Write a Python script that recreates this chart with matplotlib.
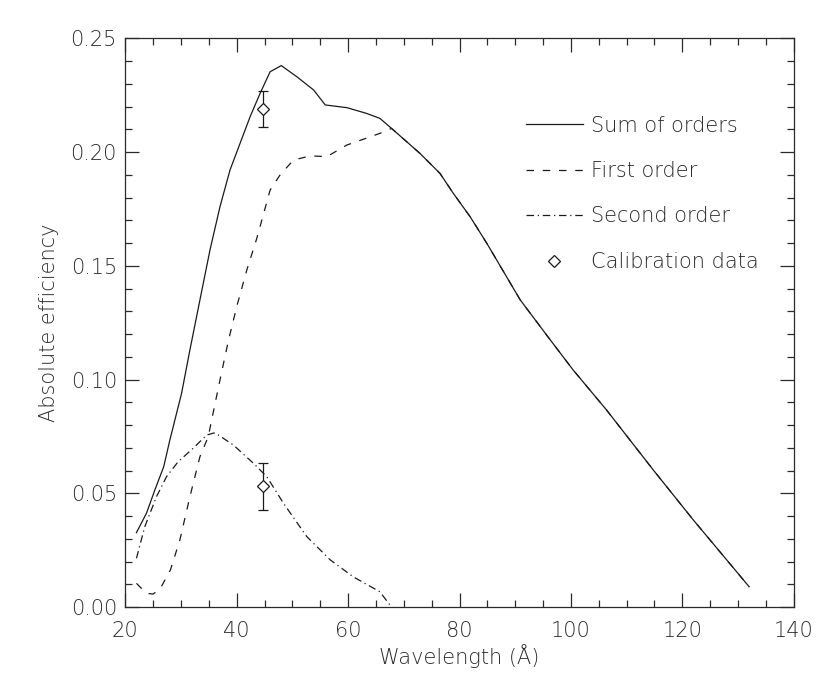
import matplotlib
matplotlib.use("Agg")
import matplotlib.pyplot as plt
from matplotlib.ticker import MultipleLocator

# sum of orders
sum_x = [22.0, 23.8, 25.3, 26.9, 28.0, 30.1, 31.6, 33.4, 35.2, 37.0, 38.8, 40.6,
         42.4, 44.2, 46.0, 48.0, 50.8, 53.8, 55.9, 59.8, 63.3, 65.7, 67.8, 72.9,
         76.5, 78.9, 81.9, 84.9, 90.9, 96.3, 100.4, 106.4, 114.8, 122.0, 132.0]
sum_y = [0.0327, 0.0412, 0.0514, 0.0617, 0.0734, 0.0939, 0.113, 0.135, 0.1569,
         0.176, 0.1921, 0.2038, 0.2155, 0.2258, 0.2353, 0.2380, 0.2331, 0.2273,
         0.2207, 0.2195, 0.2170, 0.2148, 0.2104, 0.1994, 0.1906, 0.1818, 0.1716,
         0.1599, 0.1350, 0.1174, 0.1042, 0.0866, 0.0602, 0.0382, 0.0089]

# first order
first_x = [22.0, 23.8, 25.0, 26.3, 28.1, 29.8, 31.6, 33.4, 34.9, 35.5, 37.0, 38.5,
           40.0, 41.8, 43.6, 46.0, 47.8, 50.2, 53.2, 56.2, 59.8, 65.7, 67.8, 72.9,
           76.5, 78.9, 81.9, 84.9, 90.9, 96.3, 100.4, 106.4, 114.8, 122.0, 132.0]
first_y = [0.0104, 0.0060, 0.0057, 0.0082, 0.0163, 0.0295, 0.0485, 0.0661, 0.0749,
           0.0822, 0.0998, 0.117, 0.132, 0.148, 0.162, 0.1833, 0.1900, 0.1965,
           0.1983, 0.1980, 0.2031, 0.2082, 0.2104, 0.1994, 0.1906, 0.1818, 0.1716,
           0.1599, 0.1350, 0.1174, 0.1042, 0.0866, 0.0602, 0.0382, 0.0089]

# second order
second_x = [22.0, 23.5, 25.6, 27.4, 29.5, 32.2, 34.6, 36.1, 39.4, 43.0, 45.4, 48.4,
            52.6, 56.8, 60.9, 65.7, 67.5, 68.0]
second_y = [0.0214, 0.0353, 0.0485, 0.0573, 0.0639, 0.0698, 0.0756, 0.0766, 0.0712,
            0.0632, 0.0573, 0.0456, 0.0309, 0.0207, 0.0133, 0.0067, 0.0009, 0.0]

# calibration points
cal_x = [44.8, 44.8]
cal_y = [0.219, 0.053]
cal_err = [0.008, 0.0103]

ink = "#1a1a1a"
txt = "#2a2a2a"

plt.rcParams["font.family"] = "DejaVu Sans"
plt.rcParams["font.weight"] = "light"
plt.rcParams["axes.labelweight"] = "light"
plt.rcParams["font.size"] = 15

fig = plt.figure(figsize=(8.3, 6.87), dpi=100)
ax = fig.add_axes([125.3 / 830, 1 - 607 / 687, (793.7 - 125.3) / 830, (607 - 38.3) / 687])

ax.plot(sum_x, sum_y, color=ink, lw=0.9, label="Sum of orders")
ax.plot(first_x, first_y, color=ink, lw=0.9, dashes=(6, 7), label="First order")
ax.plot(second_x, second_y, color=ink, lw=0.9, dashes=(6, 3, 1, 3), label="Second order")
ax.errorbar(cal_x, cal_y, yerr=cal_err, fmt="none", ecolor=ink, elinewidth=0.9,
            capsize=3.5, capthick=0.9)
ax.plot(cal_x, cal_y, ls="none", marker="D", ms=6, mfc="white", mec=ink, mew=0.9,
        label="Calibration data")

ax.set_xlim(20, 140)
ax.set_ylim(0, 0.25)
ax.xaxis.set_major_locator(MultipleLocator(20))
ax.xaxis.set_minor_locator(MultipleLocator(5))
ax.yaxis.set_major_locator(MultipleLocator(0.05))
ax.yaxis.set_minor_locator(MultipleLocator(0.01))
ax.yaxis.set_major_formatter(lambda v, p: f"{v:.2f}")
ax.tick_params(which="both", direction="in", top=True, right=True, colors=txt,
               width=0.9)
ax.tick_params(which="major", length=10)
ax.tick_params(which="minor", length=5)
ax.tick_params(axis="x", which="major", pad=10)
ax.tick_params(axis="y", which="major", pad=6)
for s in ax.spines.values():
    s.set_color(txt)
    s.set_linewidth(0.9)

ax.set_xlabel("Wavelength (Å)", color=txt, labelpad=2)
ax.set_ylabel("Absolute efficiency", color=txt, labelpad=8)

leg = ax.legend(loc="upper left", bbox_to_anchor=(0.572, 0.897), frameon=False,
                handlelength=2.7, handletextpad=0.42, labelspacing=1.22,
                markerscale=1.0)
for t in leg.get_texts():
    t.set_color(txt)

fig.savefig("out.png", dpi=100)
